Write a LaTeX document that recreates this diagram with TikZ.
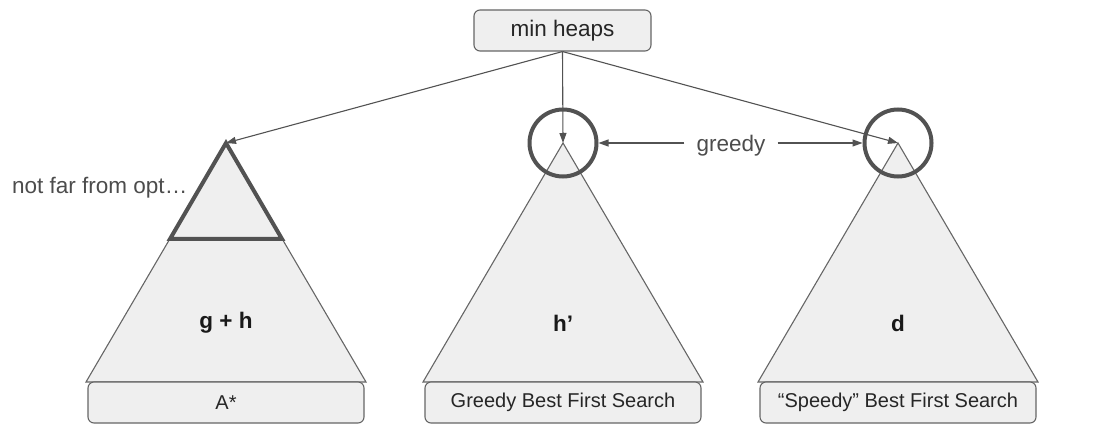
\documentclass[tikz,border=0pt]{standalone}
\usepackage{fontspec}
\setmainfont{Liberation Sans}
\usetikzlibrary{arrows.meta}
\definecolor{boxfill}{HTML}{EFEFEF}
\definecolor{edge}{HTML}{666666}
\definecolor{dark}{HTML}{525252}
\begin{document}
\begin{tikzpicture}[x=1pt,y=-1pt,
  lbl/.style={draw=edge,fill=boxfill,rounded corners=6pt,line width=1.1pt,text=black!85,
    font=\fontsize{20}{24}\selectfont,minimum height=41pt,inner sep=0pt},
  tri/.style={draw=edge,fill=boxfill,line width=1.1pt},
  thickline/.style={draw=dark,line width=4pt},
  arr/.style={draw=dark,line width=1.1pt,-{Triangle[length=10pt,width=7pt]}},
  note/.style={text=black!70,font=\fontsize{22.5}{27}\selectfont}]
  \useasboundingbox (0,0) rectangle (1094,446);
  \node[lbl,minimum width=177pt,font=\fontsize{22.5}{27}\selectfont] (heaps) at (562.5,30.5) {min heaps};
  \foreach \tx/\nm/\val/\lab in {226/astar/{g + h}/{A*},563/gbfs/{h'}/{Greedy Best First Search},898/sbfs/d/{``Speedy'' Best First Search}} {
    \coordinate (apex\nm) at (\tx,143);
    \draw[tri] (apex\nm) -- (\tx-140,382) -- (\tx+140,382) -- cycle;
    \node[lbl,minimum width=276pt] (box\nm) at (\tx,402.5) {\lab};
    \node[font=\fontsize{22.5}{27}\selectfont\bfseries,text=black!90] (val\nm) at (\tx,323) {\val};
  }
  \draw[thickline] (apexastar) -- (170,239) -- (282,239) -- cycle;
  \node[circle,thickline,minimum size=67pt,inner sep=0pt] (ringgbfs) at (apexgbfs) {};
  \node[circle,thickline,minimum size=67pt,inner sep=0pt] (ringsbfs) at (apexsbfs) {};
  \foreach \nm in {astar,gbfs,sbfs} \draw[arr] (heaps.south) -- (apex\nm);
  \node[note,text depth=0pt,inner xsep=12pt] (greedy) at (731,143) {greedy};
  \draw[arr] (greedy.west) -- (ringgbfs.east);
  \draw[arr] (greedy.east) -- (ringsbfs.west);
  \node[note,anchor=base west,inner sep=0pt] (opt) at (12,194) {not far from opt…};
\end{tikzpicture}
\end{document}
